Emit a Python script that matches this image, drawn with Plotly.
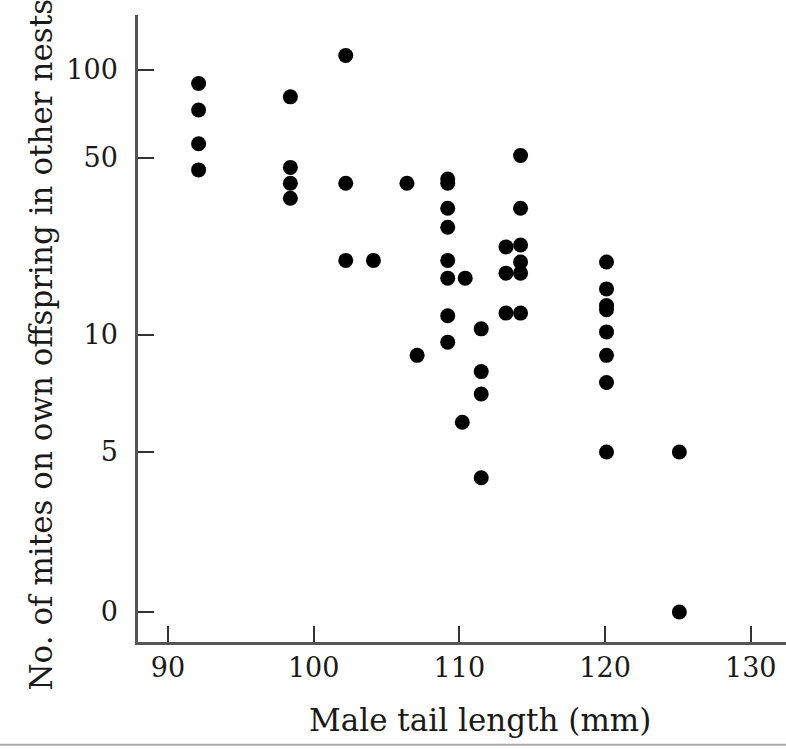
import numpy as np
import plotly.graph_objects as go

# ---- data ----
TAIL_MM = [92.1, 92.1, 92.1, 92.1,
           98.4, 98.4, 98.4, 98.4,
           102.2, 102.2, 102.2,
           104.1,
           106.4,
           107.1,
           109.2, 109.2, 109.2, 109.2, 109.2, 109.2, 109.2, 109.2,
           110.2,
           110.4,
           111.5, 111.5, 111.5, 111.5,
           113.2, 113.2, 113.2,
           114.2, 114.2, 114.2, 114.2, 114.2, 114.2,
           120.1, 120.1, 120.1, 120.1, 120.1, 120.1, 120.1, 120.1,
           125.1, 125.1]
MITES = [90, 73, 56, 45,
         81, 46, 40, 35,
         112, 40, 20,
         20,
         40,
         8.9,
         40, 41.5, 32, 27, 20, 17, 12, 9.6,
         6.0,
         17,
         10.6, 8.1, 7.1, 3.5,
         22.6, 17.8, 12.3,
         51, 32, 23, 19.7, 17.8, 12.3,
         19.7, 15.4, 12.7, 13.2, 10.3, 8.9, 7.6, 5.0,
         5.0, 0]

X_TICKS = [90, 100, 110, 120, 130]
Y_TICKS = [0, 5, 10, 50, 100]
Y_TICK_LABELS = ["0", "5", "10", "50", "100"]

# ---- y scale: piecewise log(v+1) scale as drawn in the original figure ----
SCALE_DOMAIN = np.array([0, 5, 10, 50, 100], dtype=float)
SCALE_RANGE = np.array([0, 160, 277, 454, 542], dtype=float)


def y_scale(v):
    t = np.log10(np.asarray(v, dtype=float) + 1)
    lt = np.log10(SCALE_DOMAIN + 1)
    u = np.interp(t, lt, SCALE_RANGE)
    slope = (SCALE_RANGE[-1] - SCALE_RANGE[-2]) / (lt[-1] - lt[-2])
    u = np.where(t > lt[-1], SCALE_RANGE[-1] + (t - lt[-1]) * slope, u)
    return u


FONT = "DejaVu Serif"
TXT = "#1a1a1a"

fig = go.Figure()
fig.add_trace(go.Scatter(
    x=TAIL_MM, y=y_scale(MITES), mode="markers",
    marker=dict(size=15, color="black", line=dict(width=0)),
    hoverinfo="skip", showlegend=False,
))

fig.update_layout(
    width=786, height=749,
    margin=dict(l=138, r=0, t=15, b=107),
    paper_bgcolor="white", plot_bgcolor="white",
    font=dict(family=FONT, color=TXT),
    xaxis=dict(
        range=[87.94, 132.42], tickvals=X_TICKS,
        ticks="inside", ticklen=16, tickwidth=2, tickcolor="#333",
        showline=True, linecolor="#555", linewidth=2.5,
        showgrid=False, zeroline=False,
        tickfont=dict(family=FONT, size=27, color=TXT),
        ticklabelstandoff=0,
    ),
    yaxis=dict(
        range=[-30, 597], tickvals=y_scale(Y_TICKS), ticktext=Y_TICK_LABELS,
        ticks="inside", ticklen=16, tickwidth=2, tickcolor="#333",
        showline=True, linecolor="#555", linewidth=2.5,
        showgrid=False, zeroline=False,
        tickfont=dict(family=FONT, size=27, color=TXT),
        ticklabelstandoff=12,
    ),
    annotations=[
        dict(text="No. of mites on own offspring in other nests",
             xref="paper", yref="paper", x=0, y=0.5,
             xanchor="center", yanchor="middle", xshift=-98, yshift=-16,
             textangle=-90, showarrow=False,
             font=dict(family=FONT, size=31, color=TXT)),
        dict(text="Male tail length (mm)",
             xref="paper", yref="paper", x=0.5, y=0,
             xanchor="center", yanchor="middle", xshift=18, yshift=-78,
             showarrow=False,
             font=dict(family=FONT, size=31, color=TXT)),
    ],
    shapes=[
        dict(type="line", xref="paper", yref="paper",
             x0=-0.22, x1=1.01, y0=-0.164, y1=-0.164,
             line=dict(color="#aaaaaa", width=2)),
    ],
)

fig.write_html("out.html")
